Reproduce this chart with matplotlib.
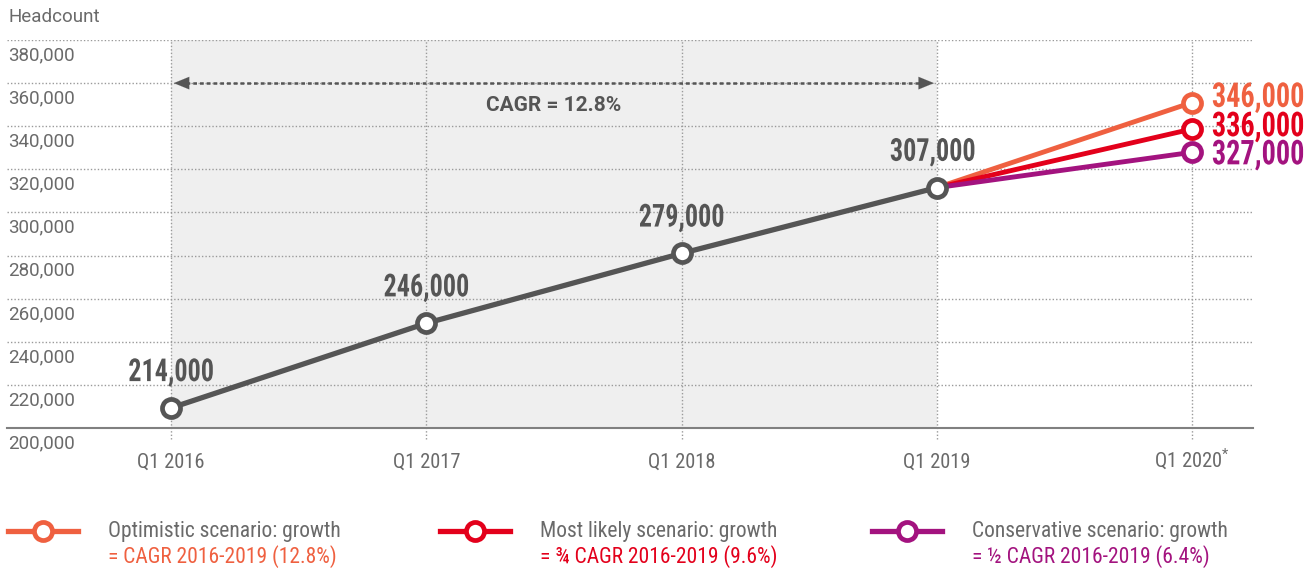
import matplotlib
matplotlib.use("Agg")
import matplotlib.pyplot as plt
from matplotlib import font_manager as fm
from matplotlib.lines import Line2D
from matplotlib.textpath import TextPath
from matplotlib.patches import PathPatch
import matplotlib.transforms as mtransforms

# data (point positions) and the printed labels
periods = ["Q1 2016", "Q1 2017", "Q1 2018", "Q1 2019", "Q1 2020$^{*}$"]
history = [209300, 248600, 281000, 311500]
history_labels = ["214,000", "246,000", "279,000", "307,000"]
scenario_names = ["Optimistic", "Most likely", "Conservative"]
scenario_2020 = [351000, 338700, 327900]
scenario_labels = ["346,000", "336,000", "327,000"]
scenario_notes = ["= CAGR 2016-2019 (12.8%)",
                  "= \u00be CAGR 2016-2019 (9.6%)",
                  "= \u00bd CAGR 2016-2019 (6.4%)"]
yticks = [200000, 220000, 240000, 260000, 280000, 300000, 320000, 340000, 360000, 380000]
cagr_text = "CAGR = 12.8%"

GREY = "#555555"
TXT = "#6a6a6a"
colors = ["#ef6040", "#e3001b", "#a3137f"]

fonts = fm.fontManager.ttflist
names = {f.name for f in fonts}
def pick(*cands):
    for c in cands:
        if c in names:
            return c
    return "DejaVu Sans"

def bold_file(*cands):
    # look for a real bold face of a narrow family
    for c in cands:
        hits = [f for f in fonts if f.name == c and f.style == "normal"
                and isinstance(f.weight, int) and f.weight >= 700]
        if hits:
            hits.sort(key=lambda f: f.weight)
            return hits[0].fname
    return None

F_REG = pick("Roboto Condensed", "Roboto", "Liberation Sans Narrow")
F_TICK = pick("Roboto", "Open Sans")
big_path = bold_file("Oswald", "Liberation Sans Narrow", "Roboto Condensed", "Roboto")
if big_path:
    BIG = fm.FontProperties(fname=big_path)
else:
    BIG = fm.FontProperties(family=F_REG, weight="bold")

plt.rcParams["font.family"] = F_REG
plt.rcParams["mathtext.fontset"] = "custom"
plt.rcParams["mathtext.rm"] = F_REG

W, H = 1315, 568
DPI = 100
fig = plt.figure(figsize=(W / DPI, H / DPI), dpi=DPI)
ax = fig.add_axes([7 / W, (H - 428) / H, (1253 - 7) / W, (428 - 40) / H])


def tall_label(x, y, s, color, dx, dy, size=19, sx=0.99, sy=1.2, ha="center"):
    # narrow, tall bold number: a text path stretched vertically
    tp = TextPath((0, 0), s, prop=BIG, size=size)
    ext = tp.get_extents()
    x0 = (ext.x0 + ext.x1) / 2 if ha == "center" else ext.x0
    k = DPI / 72
    tr = (mtransforms.Affine2D()
          .translate(-x0, -(ext.y0 + ext.y1) / 2)
          .scale(sx * k, sy * k)
          .translate(dx * k, dy * k)
          + mtransforms.ScaledTranslation(x, y, ax.transData))
    ax.add_patch(PathPatch(tp, transform=tr, color=color, lw=0,
                           zorder=7, clip_on=False))


step = 1192 - 171
ax.set_xlim(-164 / (step / 4), 4 + 61 / (step / 4))
ax.set_ylim(yticks[0], yticks[-1])

ax.axvspan(0, 3, color="#efefef", zorder=0, lw=0)
for y in yticks[1:]:
    ax.axhline(y, color="#9a9a9a", lw=1, ls=(0, (1, 1.5)), zorder=1)
for i in range(len(periods)):
    ax.axvline(i, ymin=-0.028, ymax=1, color="#9a9a9a", lw=1,
               ls=(0, (1, 1.5)), zorder=1, clip_on=False)

for s in ["top", "right", "left"]:
    ax.spines[s].set_visible(False)
ax.spines["bottom"].set_color("#808080")
ax.spines["bottom"].set_linewidth(1.5)
ax.set_yticks([])
ax.set_xticks(range(len(periods)))
ax.set_xticklabels(periods, fontsize=14.8, color=TXT)
for lbl in ax.get_xticklabels():
    lbl.set_va("baseline")
ax.tick_params(axis="x", length=0, pad=28.5)

# y labels sit inside the plot, under each gridline
for y in yticks:
    ax.annotate(f"{y:,}", xy=(0.001, y), xycoords=("axes fraction", "data"),
                xytext=(0, -11), textcoords="offset points", va="center",
                ha="left", fontsize=13.5, color=TXT, family=F_TICK)

fig.text(8 / W, (H - 17) / H, "Headcount", fontsize=13.5, color=TXT,
         family=F_TICK, va="center", ha="left")

# CAGR arrow
ax.plot([0.06, 2.94], [360000, 360000], color=GREY, lw=1.8,
        ls=(0, (1.5, 1.2)), zorder=3)
for tip, tail in [(0, 0.1), (3, 2.9)]:
    ax.annotate("", xy=(tip, 360000), xytext=(tail, 360000),
                arrowprops=dict(arrowstyle="-|>,head_length=1.1,head_width=0.45",
                                color=GREY, lw=0.1), zorder=3)
ax.annotate(cagr_text, xy=(1.5, 360000), xytext=(0, -16),
            textcoords="offset points", ha="center", va="center",
            fontsize=15, fontweight="bold", color=GREY, family=F_TICK)

# scenarios (drawn under the history line)
for c, v, lab, dy in zip(colors, scenario_2020, scenario_labels, [3.5, 1.5, -2]):
    ax.plot([3, 4], [history[-1], v], color=c, lw=3.5, zorder=4,
            solid_capstyle="round")
    ax.plot(4, v, "o", ms=13, mew=3.4, mfc="white", mec=c, zorder=6)
    tall_label(4, v, lab, c, 15, dy, size=20.5, ha="left")

ax.plot(range(len(history)), history, color=GREY, lw=3.8, zorder=5,
        marker="o", ms=13, mew=3.4, mfc="white", mec=GREY)
for i, (v, lab) in enumerate(zip(history, history_labels)):
    dx = -3 if i == 3 else 0
    tall_label(i, v, lab, GREY, dx, 25.5)

# legend row
for k, (c, nm, note) in enumerate(zip(colors, scenario_names, scenario_notes)):
    x0 = 8 + k * 432
    fig.add_artist(Line2D([x0 / W, (x0 + 70) / W], [(H - 531) / H] * 2,
                          color=c, lw=3.8, transform=fig.transFigure))
    fig.add_artist(Line2D([(x0 + 35) / W], [(H - 531) / H], marker="o",
                          ms=13, mew=3.4, mfc="white", mec=c,
                          transform=fig.transFigure))
    fig.text((x0 + 100) / W, (H - 531) / H, f"{nm} scenario: growth",
             fontsize=15.5, color=TXT, va="center", ha="left")
    fig.text((x0 + 100) / W, (H - 557) / H, note,
             fontsize=15.5, color=c, va="center", ha="left")

fig.savefig("out.png", dpi=DPI)
